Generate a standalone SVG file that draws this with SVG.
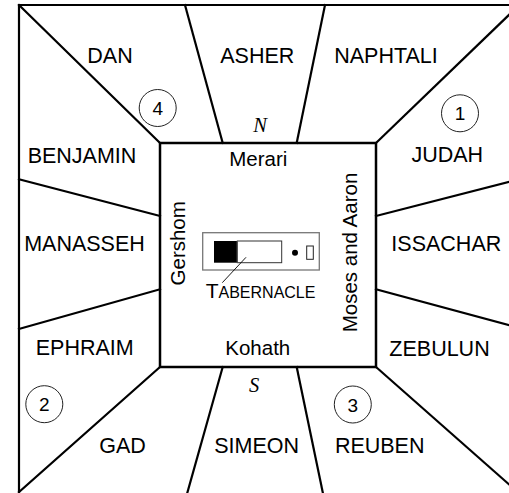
<svg xmlns="http://www.w3.org/2000/svg" width="509" height="493" viewBox="0 0 509 493">
<style>
.ln{stroke:#000;stroke-width:2.2;fill:none;stroke-linecap:square}
.lb{font-family:"Liberation Sans",Arial,sans-serif;font-size:21.5px;fill:#000;text-anchor:middle}
.in{font-family:"Liberation Sans",Arial,sans-serif;font-size:20.5px;fill:#000;text-anchor:middle}
.dir{font-family:"Liberation Serif","Times New Roman",serif;font-style:italic;font-size:20.5px;fill:#000;text-anchor:middle}
.cir{fill:none;stroke:#222;stroke-width:1}
.num{font-family:"Liberation Sans",Arial,sans-serif;font-size:19px;fill:#000;text-anchor:middle}
</style>
<rect width="509" height="493" fill="#fff"/>
<g id="connectors">
<path class="ln" d="M19,493 L19,5 L512,5"/>
<path class="ln" d="M19,5 L160,143"/>
<path class="ln" d="M376,143 L512,12"/>
<path class="ln" d="M160,367 L19,492"/>
<path class="ln" d="M376,367 L512,487"/>
<path class="ln" d="M185,5 L222.7,143"/>
<path class="ln" d="M325,5 L296.7,143"/>
<path class="ln" d="M222.7,367 L186.7,495"/>
<path class="ln" d="M296.7,367 L323.3,495"/>
<path class="ln" d="M19,179.3 L160,216"/>
<path class="ln" d="M160,289.3 L19,329"/>
<path class="ln" d="M376,216 L512,181"/>
<path class="ln" d="M376,289.3 L512,326"/>
</g>
<g id="camp">
<rect x="160" y="143" width="216" height="224" fill="none" stroke="#000" stroke-width="2.5"/>
</g>
<g id="dan"><text class="lb" x="110" y="63">DAN</text></g>
<g id="asher"><text class="lb" x="257.3" y="63">ASHER</text></g>
<g id="naphtali"><text class="lb" x="386" y="63">NAPHTALI</text></g>
<g id="benjamin"><text class="lb" x="82" y="163">BENJAMIN</text></g>
<g id="judah"><text class="lb" x="447.3" y="162">JUDAH</text></g>
<g id="manasseh"><text class="lb" x="84.5" y="251">MANASSEH</text></g>
<g id="issachar"><text class="lb" x="446.3" y="250.5">ISSACHAR</text></g>
<g id="ephraim"><text class="lb" x="84.7" y="355">EPHRAIM</text></g>
<g id="zebulun"><text class="lb" x="439.5" y="355.5">ZEBULUN</text></g>
<g id="gad"><text class="lb" x="122.5" y="453.3">GAD</text></g>
<g id="simeon"><text class="lb" x="256.7" y="453.3">SIMEON</text></g>
<g id="reuben"><text class="lb" x="379.7" y="453.3">REUBEN</text></g>
<g id="c4"><circle class="cir" cx="157.7" cy="108" r="18.5"/><text class="num" x="157.7" y="115">4</text></g>
<g id="c1"><circle class="cir" cx="460" cy="113.3" r="18.5"/><text class="num" x="460" y="120.3">1</text></g>
<g id="c2"><circle class="cir" cx="44.3" cy="404.2" r="18.5"/><text class="num" x="44.3" y="411.2">2</text></g>
<g id="c3"><circle class="cir" cx="352.8" cy="404.5" r="18.5"/><text class="num" x="352.8" y="411.5">3</text></g>
<g id="north"><text class="dir" x="260" y="131.7">N</text></g>
<g id="south"><text class="dir" x="254" y="391.7">S</text></g>
<g id="merari"><text class="in" x="258.3" y="166">Merari</text></g>
<g id="kohath"><text class="in" x="257.8" y="355">Kohath</text></g>
<g id="gershom"><text class="in" transform="translate(184.5,243.3) rotate(-90)" x="0" y="0">Gershom</text></g>
<g id="moses"><text class="in" transform="translate(357,252.5) rotate(-90)" x="0" y="0">Moses and Aaron</text></g>
<g id="tabernacle">
<rect x="202.7" y="232.7" width="116.6" height="37.3" fill="#fff" stroke="#777" stroke-width="1.3"/>
<rect x="214" y="241" width="23.3" height="21.7" fill="#000"/>
<rect x="237.3" y="241" width="44.4" height="21.7" fill="#fff" stroke="#333" stroke-width="1"/>
<line x1="237.3" y1="241" x2="237.3" y2="262.7" stroke="#555" stroke-width="1.2"/>
<circle cx="295" cy="252.7" r="3" fill="#000"/>
<rect x="306.7" y="246" width="6.6" height="13.3" fill="#fff" stroke="#222" stroke-width="1"/>
<line x1="246" y1="257.3" x2="222.3" y2="282.7" stroke="#000" stroke-width="0.9"/>
<text x="205.7" y="298.3" font-family="Liberation Sans, Arial, sans-serif" font-size="21" fill="#000">T<tspan font-size="16">ABERNACLE</tspan></text>
</g>
</svg>
